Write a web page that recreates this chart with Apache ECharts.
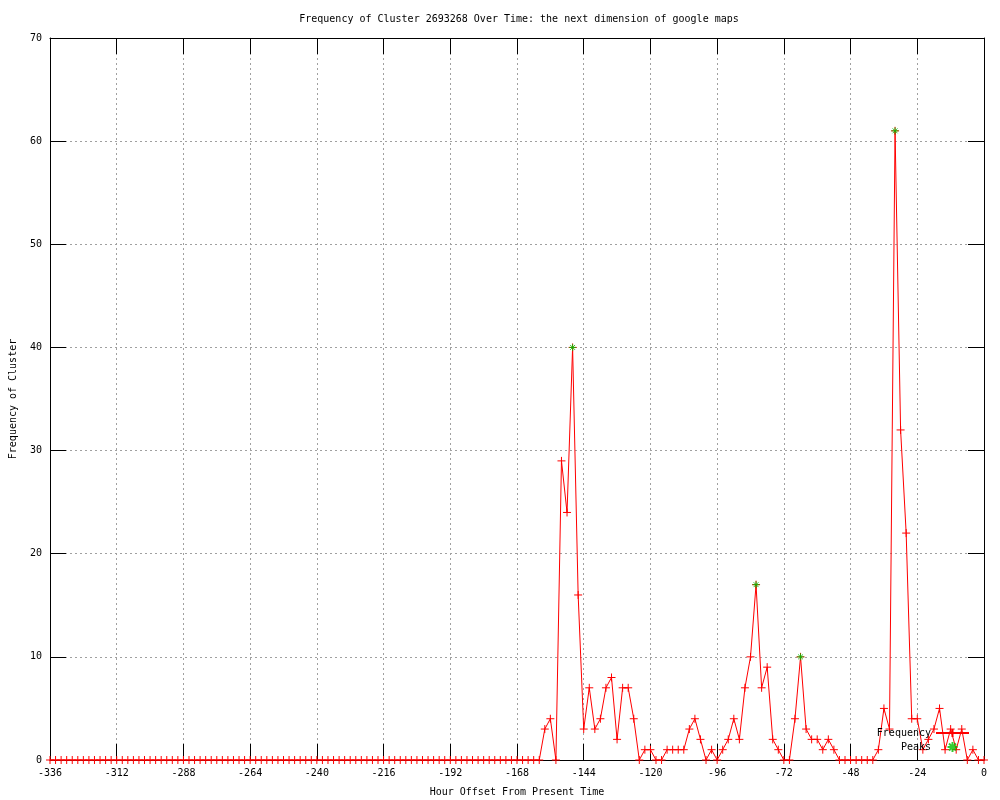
<!DOCTYPE html>
<html>
<head>
<meta charset="utf-8">
<script src="https://cdn.jsdelivr.net/npm/echarts@6/dist/echarts.min.js"></script>
<style>html,body{margin:0;padding:0;background:#fff}#c{width:1000px;height:800px}</style>
</head>
<body>
<div id="c"></div>
<script>
// Hour offsets (every 2 hours)
const hours = [
  -336,-334,-332,-330,-328,-326,-324,-322,-320,-318,-316,-314,
  -312,-310,-308,-306,-304,-302,-300,-298,-296,-294,-292,-290,
  -288,-286,-284,-282,-280,-278,-276,-274,-272,-270,-268,-266,
  -264,-262,-260,-258,-256,-254,-252,-250,-248,-246,-244,-242,
  -240,-238,-236,-234,-232,-230,-228,-226,-224,-222,-220,-218,
  -216,-214,-212,-210,-208,-206,-204,-202,-200,-198,-196,-194,
  -192,-190,-188,-186,-184,-182,-180,-178,-176,-174,-172,-170,
  -168,-166,-164,-162,-160,-158,-156,-154,-152,-150,-148,-146,
  -144,-142,-140,-138,-136,-134,-132,-130,-128,-126,-124,-122,
  -120,-118,-116,-114,-112,-110,-108,-106,-104,-102,-100,-98,
  -96,-94,-92,-90,-88,-86,-84,-82,-80,-78,-76,-74,
  -72,-70,-68,-66,-64,-62,-60,-58,-56,-54,-52,-50,
  -48,-46,-44,-42,-40,-38,-36,-34,-32,-30,-28,-26,
  -24,-22,-20,-18,-16,-14,-12,-10,-8,-6,-4,-2,
  0
];
const frequency = [
  0,0,0,0,0,0,0,0,0,0,0,0,
  0,0,0,0,0,0,0,0,0,0,0,0,
  0,0,0,0,0,0,0,0,0,0,0,0,
  0,0,0,0,0,0,0,0,0,0,0,0,
  0,0,0,0,0,0,0,0,0,0,0,0,
  0,0,0,0,0,0,0,0,0,0,0,0,
  0,0,0,0,0,0,0,0,0,0,0,0,
  0,0,0,0,0,3,4,0,29,24,40,16,
  3,7,3,4,7,8,2,7,7,4,0,1,
  1,0,0,1,1,1,1,3,4,2,0,1,
  0,1,2,4,2,7,10,17,7,9,2,1,
  0,0,4,10,3,2,2,1,2,1,0,0,
  0,0,0,0,0,1,5,3,61,32,22,4,
  4,1,2,3,5,1,3,1,3,0,1,0,
  0
];
const peakHours = [-148, -82, -66, -32];
const peakValues = [40, 17, 10, 61];

const FONT = 'DejaVu Sans Mono';
const PLUS = 'path://M0,5L10,5M5,0L5,10';
const STAR = 'path://M0,5L10,5M5,0L5,10M1.5,1.5L8.5,8.5M8.5,1.5L1.5,8.5';
const TICK_LEN = 16;

const chart = echarts.init(document.getElementById('c'), null, {renderer: 'canvas'});

function frameAxis(extra) {
  return Object.assign({
    axisLine: {show: true, onZero: false, lineStyle: {color: '#000', width: 1}},
    axisTick: {show: true, inside: true, length: TICK_LEN, lineStyle: {color: '#000', width: 1}}
  }, extra);
}
const gridLine = {show: true, lineStyle: {color: '#a0a0a0', type: [2, 3], width: 1}};
const labelStyle = {fontFamily: FONT, fontSize: 10, color: '#000'};

chart.setOption({
  animation: false,
  backgroundColor: '#fff',
  textStyle: {fontFamily: FONT},
  title: {
    text: 'Frequency of Cluster 2693268 Over Time: the next dimension of google maps',
    left: 514, top: 9, textAlign: 'center',
    textStyle: {fontFamily: FONT, fontSize: 10, fontWeight: 'normal', color: '#000'}
  },
  legend: {
    orient: 'vertical', right: 30, top: 728, align: 'right',
    itemWidth: 33, itemHeight: 10, itemGap: 3,
    padding: 0,
    formatter: n => n.padStart(9, ' '),
    textStyle: labelStyle,
    data: ['Frequency', 'Peaks']
  },
  grid: {left: 50, right: 16, top: 38, bottom: 40, containLabel: false, outerBoundsMode: 'none'},
  xAxis: [
    frameAxis({
      type: 'value', min: -336, max: 0, interval: 24, position: 'bottom',
      name: 'Hour Offset From Present Time', nameLocation: 'middle', nameGap: 27,
      nameTextStyle: labelStyle,
      axisLabel: Object.assign({margin: 8}, labelStyle),
      splitLine: gridLine
    }),
    frameAxis({
      type: 'value', min: -336, max: 0, interval: 24, position: 'top',
      axisLabel: {show: false}, splitLine: {show: false}
    })
  ],
  yAxis: [
    frameAxis({
      type: 'value', min: 0, max: 70, interval: 10, position: 'left',
      name: 'Frequency of Cluster', nameLocation: 'middle', nameGap: 32, nameRotate: 90,
      nameTextStyle: labelStyle,
      axisLabel: Object.assign({margin: 8}, labelStyle),
      splitLine: gridLine
    }),
    frameAxis({
      type: 'value', min: 0, max: 70, interval: 10, position: 'right',
      axisLabel: {show: false}, splitLine: {show: false}
    })
  ],
  series: [
    {
      name: 'Frequency', type: 'line', xAxisIndex: 0, yAxisIndex: 0,
      data: hours.map((h, i) => [h, frequency[i]]),
      symbol: PLUS, symbolSize: 8, showAllSymbol: true, clip: false,
      lineStyle: {color: '#ff0000', width: 1},
      itemStyle: {color: '#ff0000', borderColor: '#ff0000', borderWidth: 1},
      z: 3
    },
    {
      name: 'Peaks', type: 'scatter', xAxisIndex: 0, yAxisIndex: 0,
      data: peakHours.map((h, i) => [h, peakValues[i]]),
      symbol: STAR, symbolSize: 7, clip: false,
      itemStyle: {color: '#00c000', borderColor: '#00c000', borderWidth: 1},
      z: 4
    }
  ]
});
</script>
</body>
</html>
